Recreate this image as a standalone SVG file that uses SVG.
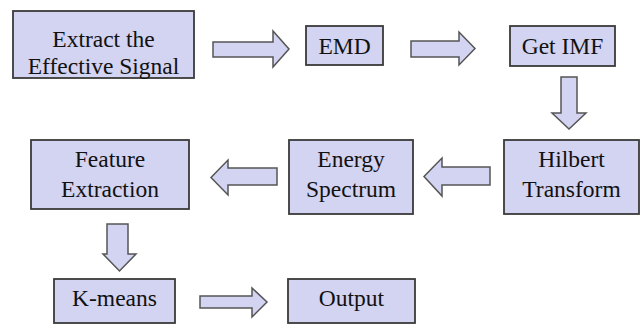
<svg xmlns="http://www.w3.org/2000/svg" width="643" height="325" viewBox="0 0 643 325">
<style>
.box{fill:#d3d3f2;stroke:#3a3a3a;stroke-width:1.8}
.arr{fill:#d3d3f2;stroke:#555555;stroke-width:1.5;stroke-linejoin:miter}
</style>
<rect width="643" height="325" fill="#ffffff"/>
<g font-family="Liberation Serif, Times New Roman, serif" font-size="23.5" fill="#111111" text-anchor="middle">
<g id="n_extract"><rect class="box" x="13" y="11" width="181" height="67"/><text x="103.5" y="47">Extract the</text><text x="103.5" y="74">Effective Signal</text></g>
<g id="n_emd"><rect class="box" x="306" y="26" width="77" height="39"/><text x="344.5" y="53.5">EMD</text></g>
<g id="n_getimf"><rect class="box" x="510" y="26" width="105" height="40"/><text x="562.5" y="53.5">Get IMF</text></g>
<g id="n_hilbert"><rect class="box" x="504" y="140" width="135" height="74"/><text x="571.5" y="167">Hilbert</text><text x="571.5" y="197">Transform</text></g>
<g id="n_energy"><rect class="box" x="289" y="140" width="124" height="74"/><text x="351" y="167">Energy</text><text x="351" y="197">Spectrum</text></g>
<g id="n_feature"><rect class="box" x="31" y="140" width="158" height="69"/><text x="110" y="167">Feature</text><text x="110" y="197">Extraction</text></g>
<g id="n_kmeans"><rect class="box" x="54" y="279" width="121" height="44"/><text x="114.5" y="306">K-means</text></g>
<g id="n_output"><rect class="box" x="288" y="279" width="127" height="44"/><text x="351.5" y="306">Output</text></g>
</g>
<g id="connectors">
<polygon class="arr" points="213,42 273,42 273,31 289,49 273,67 273,57 213,57"/>
<polygon class="arr" points="411,41 459,41 459,32 475,48.5 459,65 459,57 411,57"/>
<polygon class="arr" points="561,77 577,77 577,113 586,113 569,129 552,113 561,113"/>
<polygon class="arr" points="490,167 442,167 442,158 424,176.5 442,196 442,185 490,185"/>
<polygon class="arr" points="277,168 228,168 228,160 211,177.5 228,195 228,185 277,185"/>
<polygon class="arr" points="107,224 128,224 128,254 136,254 119.5,271 103,254 107,254"/>
<polygon class="arr" points="200,296 252,296 252,288 267,302 252,317 252,308 200,308"/>
</g>
</svg>
